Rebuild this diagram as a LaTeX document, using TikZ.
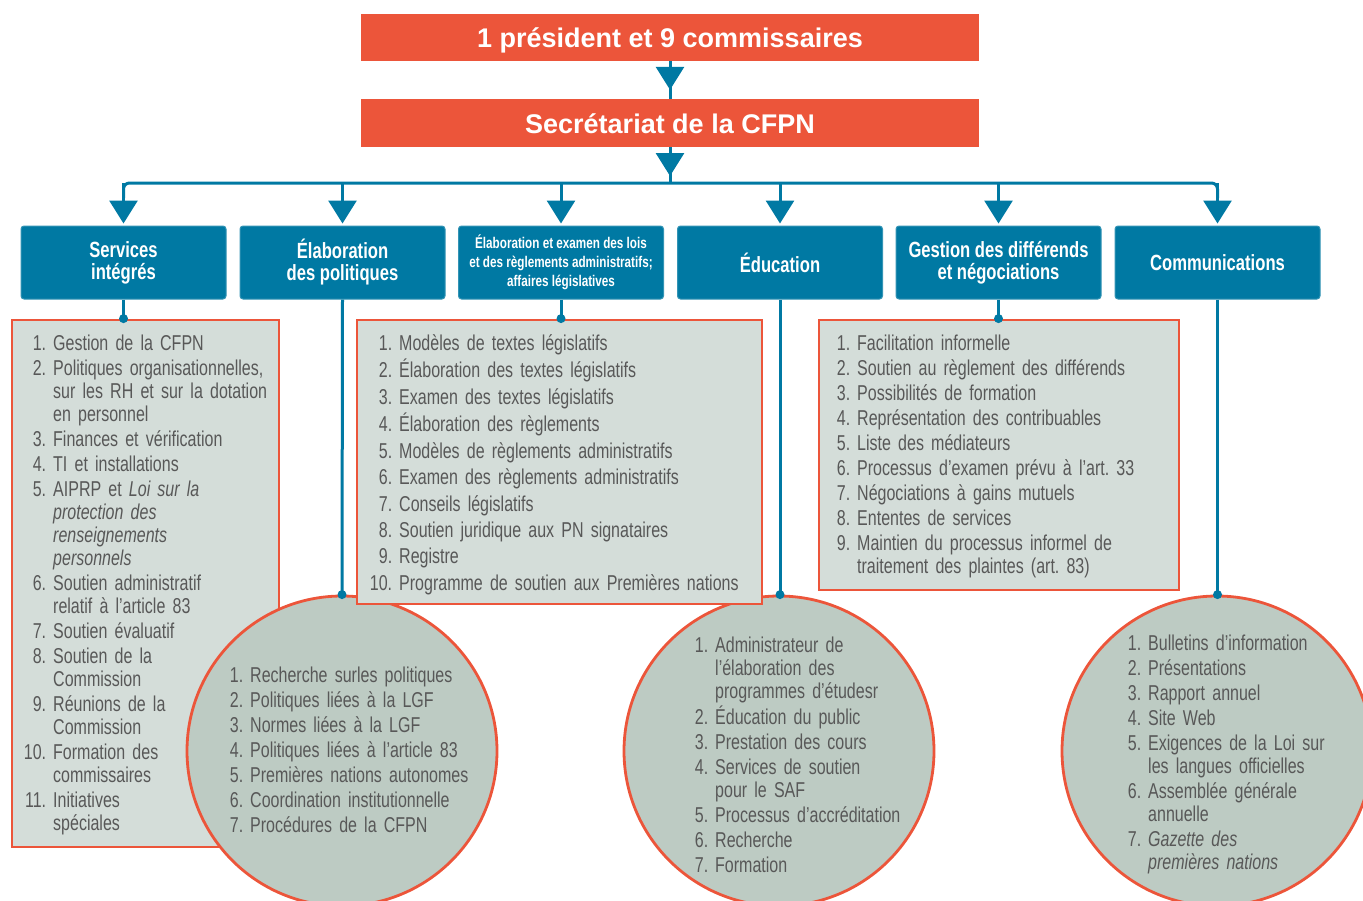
\documentclass[tikz,border=0pt]{standalone}
\usepackage{fontspec}
\setmainfont{Liberation Sans}
\newfontfamily\cond[FakeStretch=0.745]{Liberation Sans}
\newfontfamily\condb[FakeStretch=0.755]{Liberation Sans}
\usetikzlibrary{arrows.meta}
\definecolor{cfred}{HTML}{EC553A}
\definecolor{cfblue}{HTML}{0079A3}
\definecolor{boxfill}{HTML}{D4DDD9}
\definecolor{circfill}{HTML}{BDCBC3}
\definecolor{listtext}{HTML}{585858}
\newcommand{\li}[2]{\par\noindent\llap{#1.\hspace{7pt}}#2}
\newcommand{\gap}[1]{\setlength{\parskip}{#1}}
\frenchspacing
\begin{document}
\begin{tikzpicture}[x=1pt,y=-1pt,
  topbox/.style={rectangle, fill=cfred, minimum width=618pt, minimum height=47pt, inner sep=0pt, text=white, text height=20pt, text depth=0pt, font=\bfseries\fontsize{27}{32}\selectfont},
  unit/.style={rectangle, rounded corners=3pt, fill=cfblue, draw=cfblue!80!white, line width=1pt, minimum width=205pt, minimum height=73pt, inner sep=0pt, text=white, align=center, font=\condb\bfseries\fontsize{22}{22}\selectfont},
  listbox/.style={rectangle, fill=boxfill, draw=cfred, line width=2.8pt, inner sep=0pt},
  listcirc/.style={circle, fill=circfill, draw=cfred, line width=2.8pt, minimum size=310pt, inner sep=0pt},
  listtxt/.style={anchor=base west, inner sep=0pt, text width=440pt, align=left, text=listtext, font=\cond\fontsize{21.5}{23}\selectfont},
  conn/.style={draw=cfblue, line width=3pt},
  arrowhd/.style={-{Triangle[width=28pt,length=23pt]}},
  dotmark/.style={circle, fill=cfblue, minimum size=9pt, inner sep=0pt}
]
\useasboundingbox (0,0) rectangle (1363,900);
\clip (0,0) rectangle (1363,900);

% top boxes
\node[topbox] (pres) at (670,37.5) {1 président et 9 commissaires};
\node[topbox, minimum height=48pt] (sec) at (670,123) {Secrétariat de la CFPN};
\coordinate (bus) at (670,183);

% unit boxes
\node[unit] (b1) at (123.5,262.5) {Services\\intégrés};
\node[unit] (b2) at (342.5,262.5) {Élaboration\\des politiques};
\node[unit, font=\condb\bfseries\fontsize{15.5}{19}\selectfont] (b3) at (561,262.5) {Élaboration et examen des lois\\et des règlements administratifs;\\affaires législatives};
\node[unit] (b4) at (780,262.5) {Éducation};
\node[unit] (b5) at (998.5,262.5) {Gestion des différends\\et négociations};
\node[unit] (b6) at (1217.5,262.5) {Communications};

% connectors top
\draw[conn] (pres.south) -- (sec.north);
\draw[conn, arrowhd, shorten >=9pt] (pres.south) -- (sec.north);
\draw[conn] (sec.south) -- (bus);
\draw[conn, arrowhd, shorten >=7pt] (sec.south) -- (bus);
\draw[conn, rounded corners=6pt] ([yshift=-15pt]b1.north |- bus) -- (b1.north |- bus) -- (b6.north |- bus) -- ([yshift=-15pt]b6.north |- bus);
\foreach \b in {b1,b2,b3,b4,b5,b6}{
  \draw[conn, arrowhd, shorten >=2pt] (\b.north |- bus) -- (\b.north);
}

% list containers
\node[listbox, minimum width=267pt, minimum height=527pt] (r1) at (145.5,583.5) {};
\node[listcirc] (c1) at (342,751) {};
\node[listcirc] (c2) at (779,751) {};
\node[listcirc] (c3) at (1217,751) {};
\node[listbox, minimum width=405pt, minimum height=284pt] (r2) at (559.5,462) {};
\node[listbox, minimum width=360pt, minimum height=270pt] (r3) at (999,455) {};

% connectors down
\draw[conn] (b1.south) -- (b1.south |- r1.north) node[dotmark] (d1) {};
\draw[conn] (b2.south) -- (c1.north) node[dotmark] (d2) {};
\draw[conn] (b3.south) -- (b3.south |- r2.north) node[dotmark] (d3) {};
\draw[conn] (b4.south) -- (b4.south |- c2.north) node[dotmark] (d4) {};
\draw[conn] (b5.south) -- (b5.south |- r3.north) node[dotmark] (d5) {};
\draw[conn] (b6.south) -- (b6.south |- c3.north) node[dotmark] (d6) {};

% list texts
\node[listtxt] (t1) at (53,325) {\gap{2pt}%
\li{1}{Gestion de la CFPN}
\li{2}{Politiques organisationnelles,\\sur les RH et sur la dotation\\en personnel}
\li{3}{Finances et vérification}
\li{4}{TI et installations}
\li{5}{AIPRP et {\itshape Loi sur la\\protection des\\renseignements\\personnels}}
\li{6}{Soutien administratif\\relatif à l’article 83}
\li{7}{Soutien évaluatif}
\li{8}{Soutien de la\\Commission}
\li{9}{Réunions de la\\Commission}
\li{10}{Formation des\\commissaires}
\li{11}{Initiatives\\spéciales}};

\node[listtxt] (t2) at (250,657) {\gap{2pt}%
\li{1}{Recherche surles politiques}
\li{2}{Politiques liées à la LGF}
\li{3}{Normes liées à la LGF}
\li{4}{Politiques liées à l’article 83}
\li{5}{Premières nations autonomes}
\li{6}{Coordination institutionnelle}
\li{7}{Procédures de la CFPN}};

\node[listtxt] (t3) at (399,324) {\gap{3.4pt}%
\li{1}{Modèles de textes législatifs}
\li{2}{Élaboration des textes législatifs}
\li{3}{Examen des textes législatifs}
\li{4}{Élaboration des règlements}
\li{5}{Modèles de règlements administratifs}
\li{6}{Examen des règlements administratifs}
\li{7}{Conseils législatifs}
\li{8}{Soutien juridique aux PN signataires}
\li{9}{Registre}
\li{10}{Programme de soutien aux Premières nations}};

\node[listtxt] (t4) at (715,627) {\gap{2pt}%
\li{1}{Administrateur de\\l’élaboration des\\programmes d’étudesr}
\li{2}{Éducation du public}
\li{3}{Prestation des cours}
\li{4}{Services de soutien\\pour le SAF}
\li{5}{Processus d’accréditation}
\li{6}{Recherche}
\li{7}{Formation}};

\node[listtxt] (t5) at (857,325) {\gap{2pt}%
\li{1}{Facilitation informelle}
\li{2}{Soutien au règlement des différends}
\li{3}{Possibilités de formation}
\li{4}{Représentation des contribuables}
\li{5}{Liste des médiateurs}
\li{6}{Processus d’examen prévu à l’art. 33}
\li{7}{Négociations à gains mutuels}
\li{8}{Ententes de services}
\li{9}{Maintien du processus informel de\\traitement des plaintes (art. 83)}};

\node[listtxt] (t6) at (1148,625) {\gap{2pt}%
\li{1}{Bulletins d’information}
\li{2}{Présentations}
\li{3}{Rapport annuel}
\li{4}{Site Web}
\li{5}{Exigences de la Loi sur\\les langues officielles}
\li{6}{Assemblée générale\\annuelle}
\li{7}{{\itshape Gazette des\\premières nations}}};
\end{tikzpicture}
\end{document}
